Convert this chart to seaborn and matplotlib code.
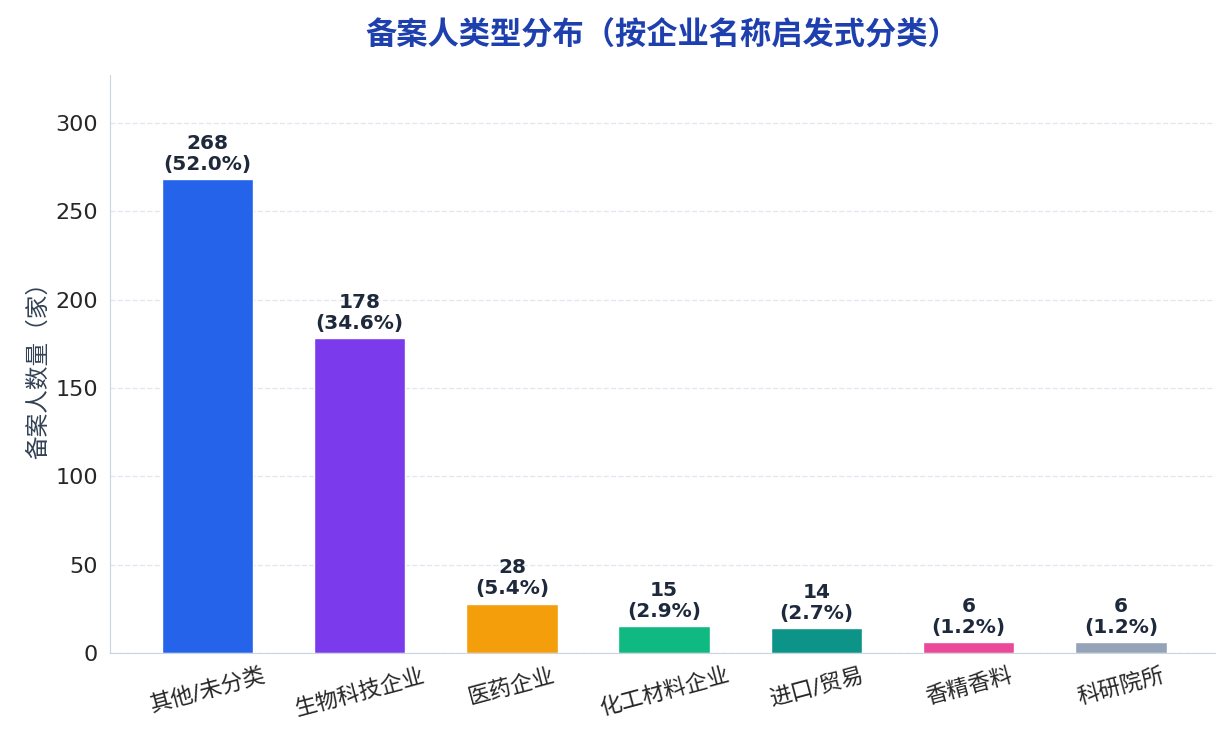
import numpy as np
import pandas as pd
import matplotlib
matplotlib.use("Agg")
import matplotlib.pyplot as plt
import seaborn as sns

categories = ["其他/未分类", "生物科技企业", "医药企业", "化工材料企业", "进口/贸易", "香精香料", "科研院所"]
counts = [268, 178, 28, 15, 14, 6, 6]
colors = ["#2563EB", "#7C3AED", "#F59E0B", "#10B981", "#0D9488", "#EC4899", "#94A3B8"]

sns.set_style("white")
plt.rcParams['font.family'] = ['DejaVu Sans', 'Noto Sans CJK SC']

df = pd.DataFrame({"类型": categories, "数量": counts})
total = sum(counts)

fig = plt.figure(figsize=(12.3, 7.45), dpi=100)
ax = sns.barplot(x="类型", y="数量", hue="类型", data=df, palette=colors, width=0.6,
                 legend=False, saturation=1, edgecolor="white", linewidth=1)
ax.set_ylim(0, max(counts) * 1.22)
ax.set_xlim(-0.64, 6.62)
ax.yaxis.grid(True, linestyle="--", color="#E2E8F0", linewidth=1)
ax.set_axisbelow(True)

for i, v in enumerate(counts):
    ax.text(i, v + 3, f"{v}\n({v / total * 100:.1f}%)", ha="center", va="bottom",
            fontsize=14.5, fontweight="bold", color="#1E293B", linespacing=1.15)

ax.set_title("备案人类型分布（按企业名称启发式分类）", fontsize=22.5, fontweight="bold",
             color="#1E40AF", pad=22, family=['Noto Sans CJK SC', 'DejaVu Sans'])
ax.set_xlabel("")
ax.set_ylabel("备案人数量（家）", fontsize=17, color="#334155",
              family=['Noto Sans CJK SC', 'DejaVu Sans'])
ax.tick_params(axis="x", labelsize=16, rotation=15, length=5, color="#1E293B")
ax.tick_params(axis="y", labelsize=16, length=5, color="#1E293B")
for lab in ax.get_xticklabels():
    lab.set_ha("center")
for s in ["top", "right"]:
    ax.spines[s].set_visible(False)
for s in ["left", "bottom"]:
    ax.spines[s].set_color("#CBD5E1")

plt.subplots_adjust(left=0.0894, right=0.988, top=0.899, bottom=0.1235)
fig.savefig("out.png", dpi=100)
plt.close(fig)
